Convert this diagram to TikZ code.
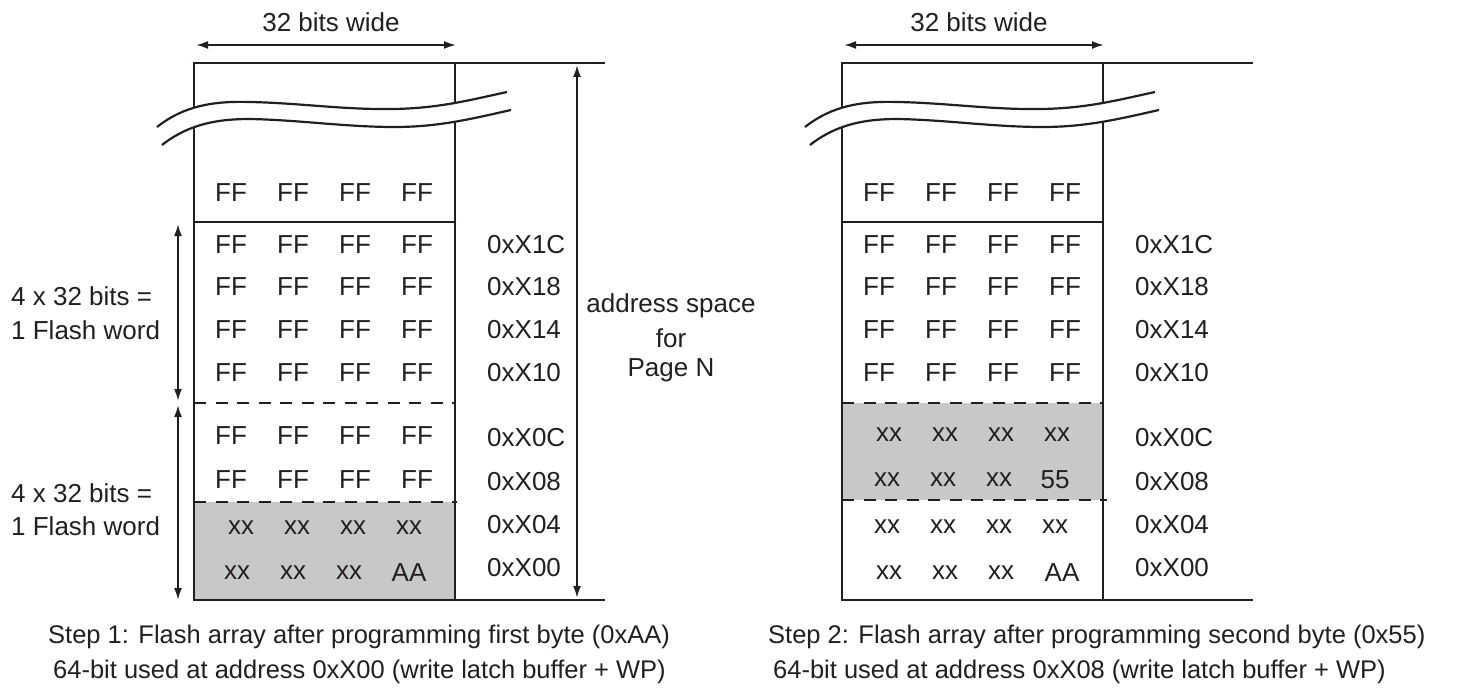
\documentclass[tikz,border=0pt]{standalone}
\usepackage{fontspec}
\setmainfont{Liberation Sans}
\usetikzlibrary{arrows.meta}
\definecolor{ink}{RGB}{35,31,32}
\definecolor{greyfill}{RGB}{199,200,202}
\tikzset{
  frame/.style={draw=ink, line width=2.2pt},
  extline/.style={draw=ink, line width=2pt},
  dashln/.style={draw=ink, line width=2.2pt, dash pattern=on 12pt off 9.5pt},
  dimarrow/.style={draw=ink, line width=2pt, {Latex[length=12pt,width=8pt]}-{Latex[length=12pt,width=8pt]}},
  txt/.style={text=ink, inner sep=0pt, font=\fontsize{26}{31}\selectfont},
  captxt/.style={text=ink, inner sep=0pt, font=\fontsize{25.5}{30}\selectfont},
}
\newcommand\commonframe{%
  \coordinate (wl) at (196,45); \coordinate (wr) at (456,45);
  \draw[dimarrow] (wl) -- (wr);
  \node[txt] (wlab) at (331,22) {32 bits wide};
  \draw[frame] (194,63) rectangle (455,600);
  \draw[frame] (194,222) -- (455,222);
  \coordinate (tl) at (455,63); \coordinate (tr) at (605,63);
  \coordinate (bl) at (455,600); \coordinate (br) at (605,600);
  \draw[extline] (tl) -- (tr);
  \draw[extline] (bl) -- (br);
  \fill[white] (157,127) .. controls (185,105) and (215,101) .. (250,102)
     .. controls (300,103) and (345,110) .. (395,109)
     .. controls (440,108) and (470,100) .. (507,92) -- (511,110)
     .. controls (475,118) and (440,127) .. (395,127)
     .. controls (345,127) and (300,120) .. (250,119)
     .. controls (220,119) and (190,123) .. (162,145) -- cycle;
  \draw[frame] (157,127) .. controls (185,105) and (215,101) .. (250,102)
     .. controls (300,103) and (345,110) .. (395,109)
     .. controls (440,108) and (470,100) .. (507,92);
  \draw[frame] (162,145) .. controls (190,123) and (220,119) .. (250,119)
     .. controls (300,120) and (345,127) .. (395,127)
     .. controls (440,127) and (475,118) .. (511,110);
  \foreach \x [count=\i] in {231,293,355,417} {
    \node[txt] (top\i) at (\x,193) {FF};
    \foreach \y [count=\j] in {245,287,330,373} \node[txt] (ff\j-\i) at (\x,\y) {FF};
  }
  \foreach \a/\y [count=\k] in {1C/245,18/287,14/330,10/373,0C/438,08/482,04/525,00/568}
    \node[txt, anchor=west] (ad\k) at (487,\y) {0xX\a};
}
\begin{document}
\begin{tikzpicture}[x=1pt,y=-1pt]
\useasboundingbox (0,0) rectangle (1466,690);
% ---------- Step 1 ----------
\begin{scope}[name prefix=L-]
  \fill[greyfill] (194,502) rectangle (455,600);
  \commonframe
  \draw[dashln] (194,403) -- (455,403);
  \draw[dashln] (194,502) -- (457,502);
  \foreach \x [count=\i] in {231,293,355,417} \node[txt] (r5-\i) at (\x,436) {FF};
  \foreach \x [count=\i] in {231,293,355,417} \node[txt] (r6-\i) at (\x,480) {FF};
  \foreach \x [count=\i] in {241,297,353,409} \node[txt] (r7-\i) at (\x,528) {xx};
  \foreach \x/\t [count=\i] in {237/xx,293/xx,349/xx,409/AA} \node[txt] (r8-\i) at (\x,573) {\t};
  % flash word arrows
  \coordinate (a1t) at (178,224); \coordinate (a1b) at (178,401);
  \coordinate (a2t) at (178,405); \coordinate (a2b) at (178,600);
  \draw[dimarrow] (a1t) -- (a1b);
  \draw[dimarrow] (a2t) -- (a2b);
  \node[txt, anchor=west] (fw1a) at (11,296) {4 x 32 bits =};
  \node[txt, anchor=west] (fw1b) at (11,330) {1 Flash word};
  \node[txt, anchor=west] (fw2a) at (11,493) {4 x 32 bits =};
  \node[txt, anchor=west] (fw2b) at (11,526) {1 Flash word};
  % address space arrow
  \coordinate (as1) at (577,65); \coordinate (as2) at (577,598);
  \draw[dimarrow] (as1) -- (as2);
  \node[txt] (asp1) at (671,306) {address space};
  \node[txt] (asp2) at (671,338) {for};
  \node[txt] (asp3) at (671,370) {Page N};
  \node[captxt, anchor=west] (cap1) at (48,637) {Step 1: Flash array after programming first byte (0xAA)};
  \node[captxt, anchor=west] (cap2) at (53,672) {64-bit used at address 0xX00 (write latch buffer + WP)};
\end{scope}
% ---------- Step 2 ----------
\begin{scope}[xshift=648pt, name prefix=R-]
  \fill[greyfill] (194,403) rectangle (455,500);
  \commonframe
  \draw[dashln] (194,403) -- (455,403);
  \draw[dashln] (194,500) -- (459,500);
  \foreach \x [count=\i] in {241,297,353,409} \node[txt] (r5-\i) at (\x,435) {xx};
  \node[txt] (r6-1) at (239,480) {xx};
  \node[txt] (r6-2) at (295,480) {xx};
  \node[txt] (r6-3) at (351,480) {xx};
  \node[txt] (r6-4) at (407,480) {55};
  \foreach \x [count=\i] in {239,295,351,407} \node[txt] (r7-\i) at (\x,527) {xx};
  \foreach \x/\t [count=\i] in {241/xx,297/xx,353/xx,414/AA} \node[txt] (r8-\i) at (\x,573) {\t};
  \node[captxt, anchor=west] (cap1) at (120,637) {Step 2: Flash array after programming second byte (0x55)};
  \node[captxt, anchor=west] (cap2) at (125,672) {64-bit used at address 0xX08 (write latch buffer + WP)};
\end{scope}
\end{tikzpicture}
\end{document}
